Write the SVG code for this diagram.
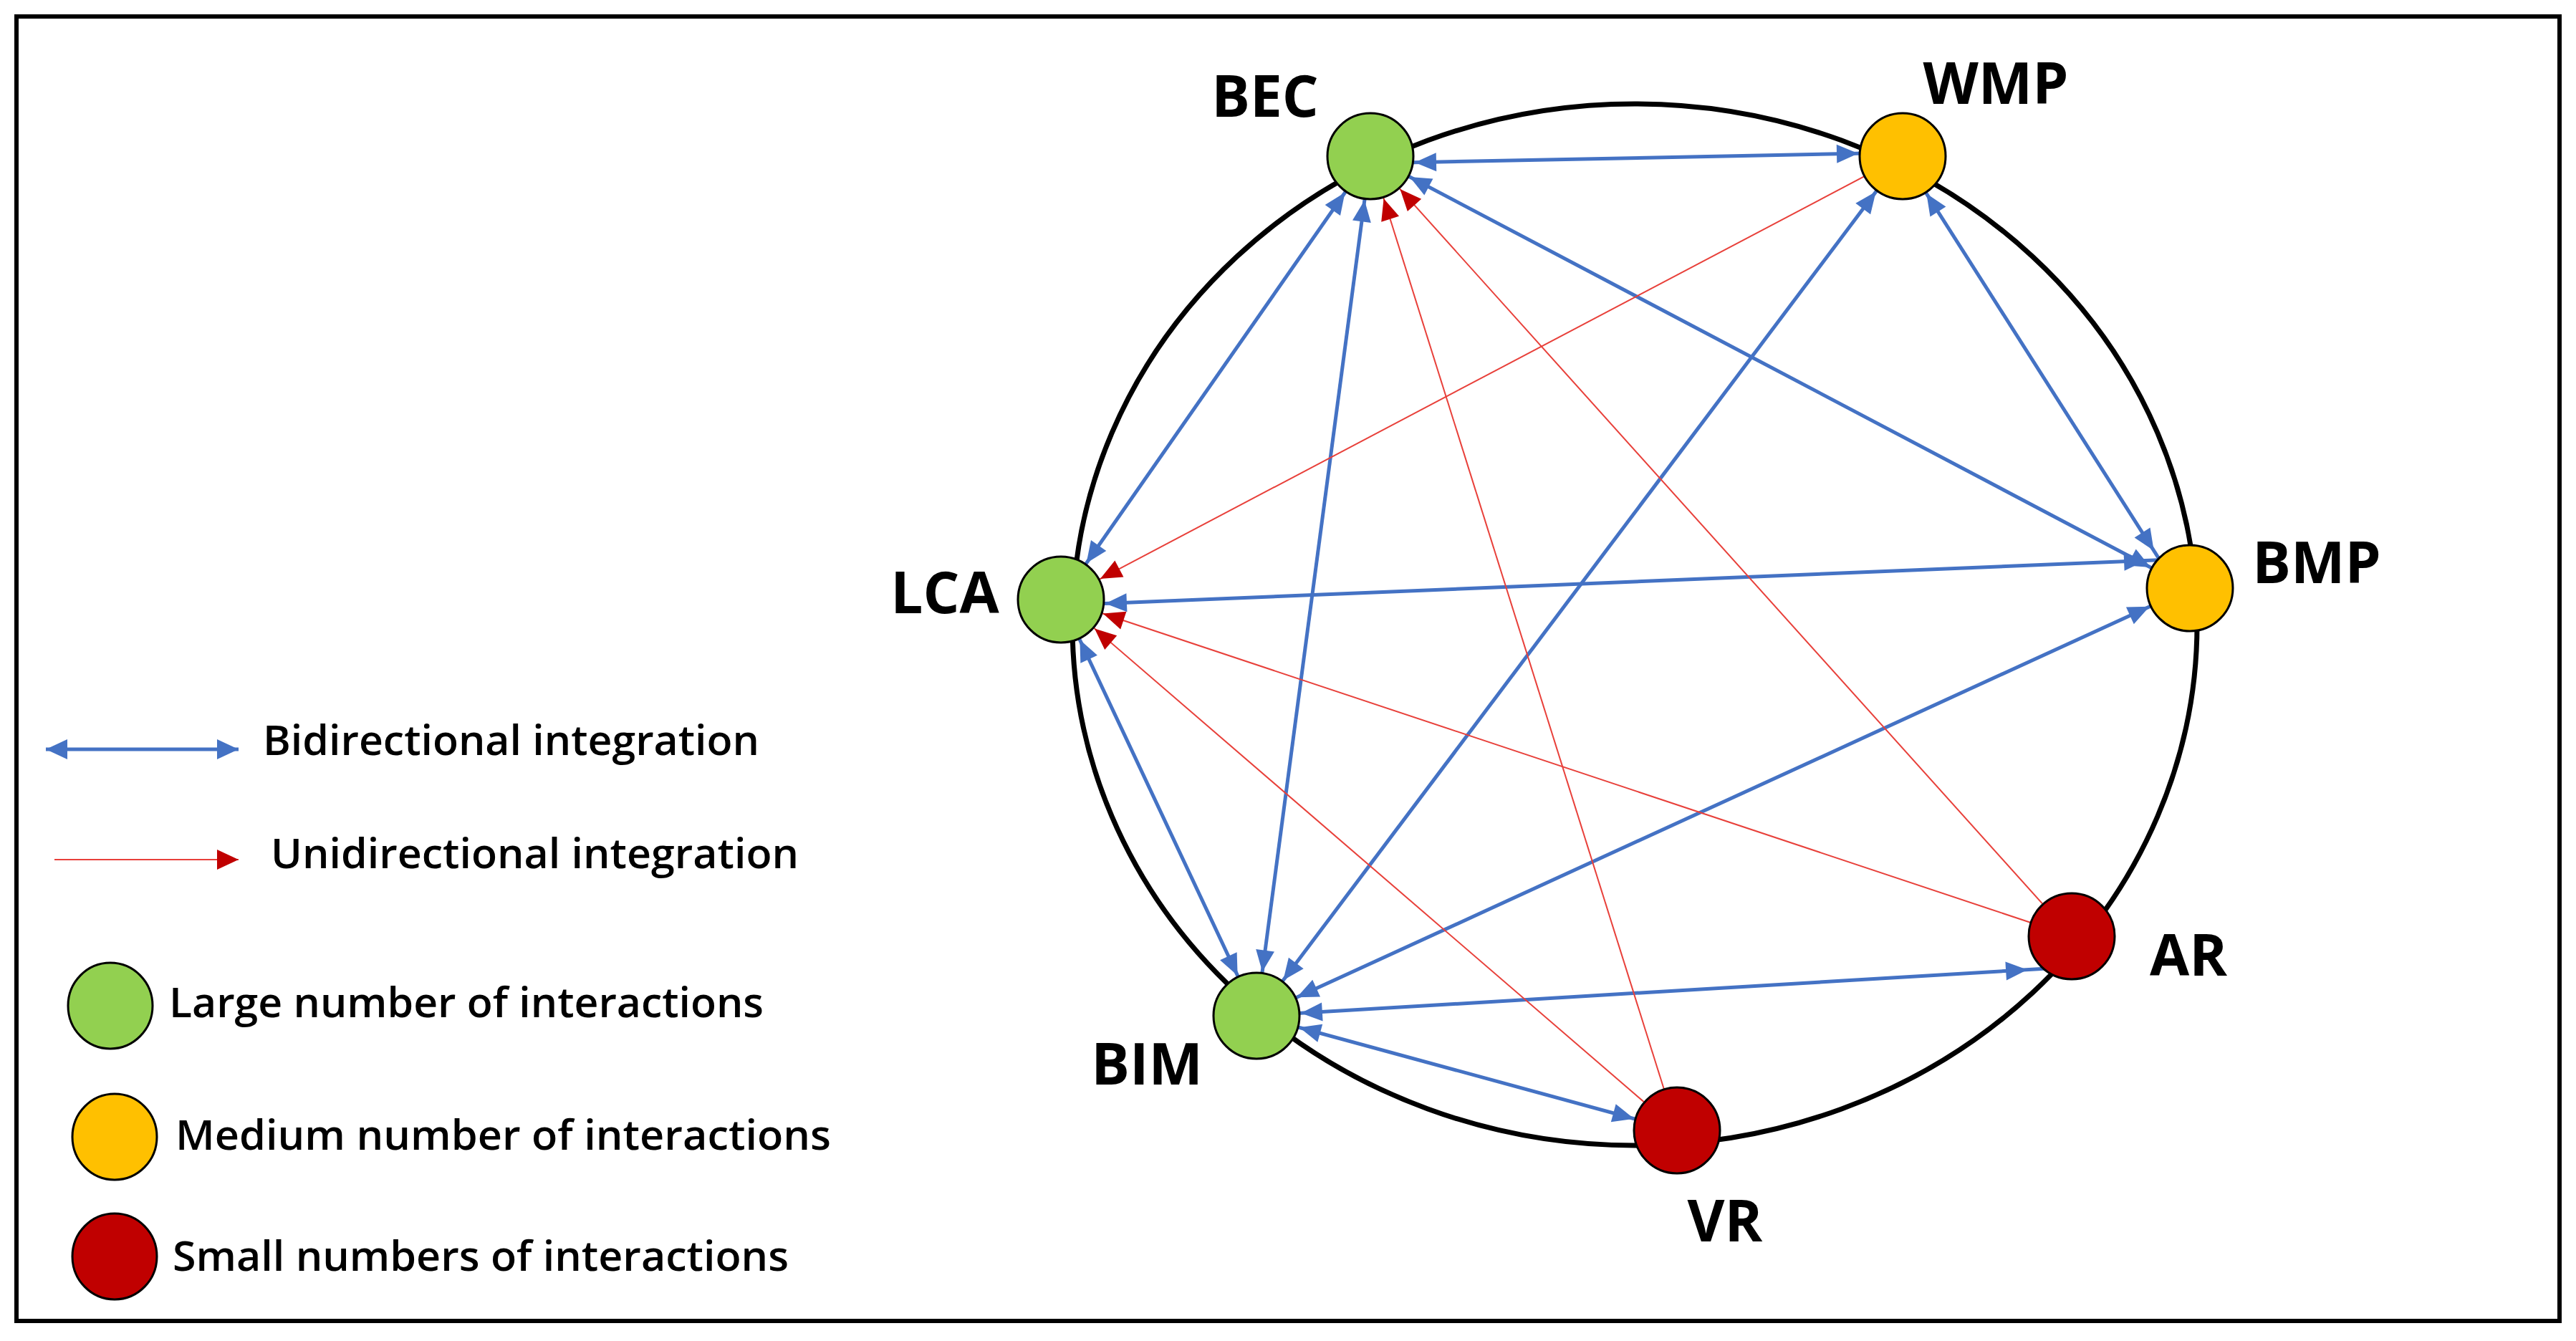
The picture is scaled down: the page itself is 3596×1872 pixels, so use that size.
<svg xmlns="http://www.w3.org/2000/svg" width="3596" height="1872" viewBox="0 0 3596 1872">
<style>
.lbl{font-family:"Open Sans","Liberation Sans",sans-serif;font-weight:bold;font-size:80px;fill:#000}
.leg{font-family:"Open Sans","Liberation Sans",sans-serif;font-weight:600;font-size:58px;fill:#000}
.bi{stroke:#4472C4;stroke-width:5;fill:none;marker-start:url(#bh);marker-end:url(#bh)}
.uni{stroke:#E8403A;stroke-width:2;fill:none;marker-end:url(#rh)}
.node{stroke:#000;stroke-width:3}
.g{fill:#92D050}.y{fill:#FFC000}.r{fill:#C00000}
</style>
<defs>
<marker id="bh" markerUnits="userSpaceOnUse" viewBox="-40 -15 110 30" refX="62" refY="0" markerWidth="110" markerHeight="30" orient="auto-start-reverse"><path d="M0,0 L-30,-13 L-30,13 Z" fill="#4472C4"/></marker>
<marker id="rh" markerUnits="userSpaceOnUse" viewBox="-40 -15 110 30" refX="62" refY="0" markerWidth="110" markerHeight="30" orient="auto"><path d="M0,0 L-30,-13 L-30,13 Z" fill="#C00000"/></marker>
<marker id="bl" markerUnits="userSpaceOnUse" viewBox="-32 -15 34 30" refX="0" refY="0" markerWidth="34" markerHeight="30" orient="auto-start-reverse"><path d="M0,0 L-30,-14 L-30,14 Z" fill="#4472C4"/></marker>
<marker id="rl" markerUnits="userSpaceOnUse" viewBox="-32 -15 34 30" refX="0" refY="0" markerWidth="34" markerHeight="30" orient="auto"><path d="M0,0 L-30,-14 L-30,14 Z" fill="#C00000"/></marker>
</defs>
<rect x="0" y="0" width="3596" height="1872" fill="#fff"/>
<rect x="23" y="23" width="3550" height="1821" fill="none" stroke="#000" stroke-width="6"/>
<ellipse cx="2282" cy="872" rx="785" ry="727" fill="none" stroke="#000" stroke-width="7"/>
<g id="connectors">
<line class="bi" x1="1913" y1="228" x2="2656" y2="213"/>
<line class="bi" x1="1913" y1="218" x2="3057" y2="821"/>
<line class="bi" x1="1913" y1="218" x2="1481" y2="837"/>
<line class="bi" x1="1913" y1="218" x2="1754" y2="1418"/>
<line class="bi" x1="2656" y1="218" x2="3040" y2="821"/>
<line class="bi" x1="2656" y1="218" x2="1754" y2="1418"/>
<line class="bi" x1="1481" y1="845" x2="3057" y2="780"/>
<line class="bi" x1="1481" y1="837" x2="1754" y2="1418"/>
<line class="bi" x1="1754" y1="1418" x2="3057" y2="821"/>
<line class="bi" x1="1754" y1="1418" x2="2892" y2="1350"/>
<line class="bi" x1="1754" y1="1418" x2="2341" y2="1578"/>
<line class="uni" x1="2656" y1="218" x2="1481" y2="837"/>
<line class="uni" x1="2892" y1="1307" x2="1481" y2="837"/>
<line class="uni" x1="2341" y1="1578" x2="1481" y2="837"/>
<line class="uni" x1="2341" y1="1578" x2="1913" y2="218"/>
<line class="uni" x1="2892" y1="1307" x2="1913" y2="218"/>
</g>
<g id="BEC"><circle class="node g" cx="1913" cy="218" r="60"/><text class="lbl" x="1766" y="163" text-anchor="middle">BEC</text></g>
<g id="WMP"><circle class="node y" cx="2656" cy="218" r="60"/><text class="lbl" x="2786" y="145" text-anchor="middle">WMP</text></g>
<g id="LCA"><circle class="node g" cx="1481" cy="837" r="60"/><text class="lbl" x="1319" y="856" text-anchor="middle">LCA</text></g>
<g id="BMP"><circle class="node y" cx="3057" cy="821" r="60"/><text class="lbl" x="3234" y="814" text-anchor="middle">BMP</text></g>
<g id="BIM"><circle class="node g" cx="1754" cy="1418" r="60"/><text class="lbl" x="1601" y="1514" text-anchor="middle">BIM</text></g>
<g id="VR"><circle class="node r" cx="2341" cy="1578" r="60"/><text class="lbl" x="2408" y="1733" text-anchor="middle">VR</text></g>
<g id="AR"><circle class="node r" cx="2892" cy="1307" r="60"/><text class="lbl" x="3055" y="1362" text-anchor="middle">AR</text></g>
<g id="legend">
<line x1="64" y1="1046" x2="333" y2="1046" stroke="#4472C4" stroke-width="5" marker-start="url(#bl)" marker-end="url(#bl)"/>
<text class="leg" x="367" y="1054" textLength="693" lengthAdjust="spacingAndGlyphs">Bidirectional integration</text>
<line x1="76" y1="1200" x2="333" y2="1200" stroke="#E8403A" stroke-width="2" marker-end="url(#rl)"/>
<text class="leg" x="378" y="1212" textLength="737" lengthAdjust="spacingAndGlyphs">Unidirectional integration</text>
<ellipse class="node g" cx="154" cy="1404" rx="59" ry="60"/>
<text class="leg" x="236" y="1420" textLength="830" lengthAdjust="spacingAndGlyphs">Large number of interactions</text>
<ellipse class="node y" cx="160" cy="1587" rx="59" ry="60"/>
<text class="leg" x="245" y="1605" textLength="915" lengthAdjust="spacingAndGlyphs">Medium number of interactions</text>
<ellipse class="node r" cx="160" cy="1754" rx="59" ry="60"/>
<text class="leg" x="241" y="1774" textLength="860" lengthAdjust="spacingAndGlyphs">Small numbers of interactions</text>
</g>
</svg>
